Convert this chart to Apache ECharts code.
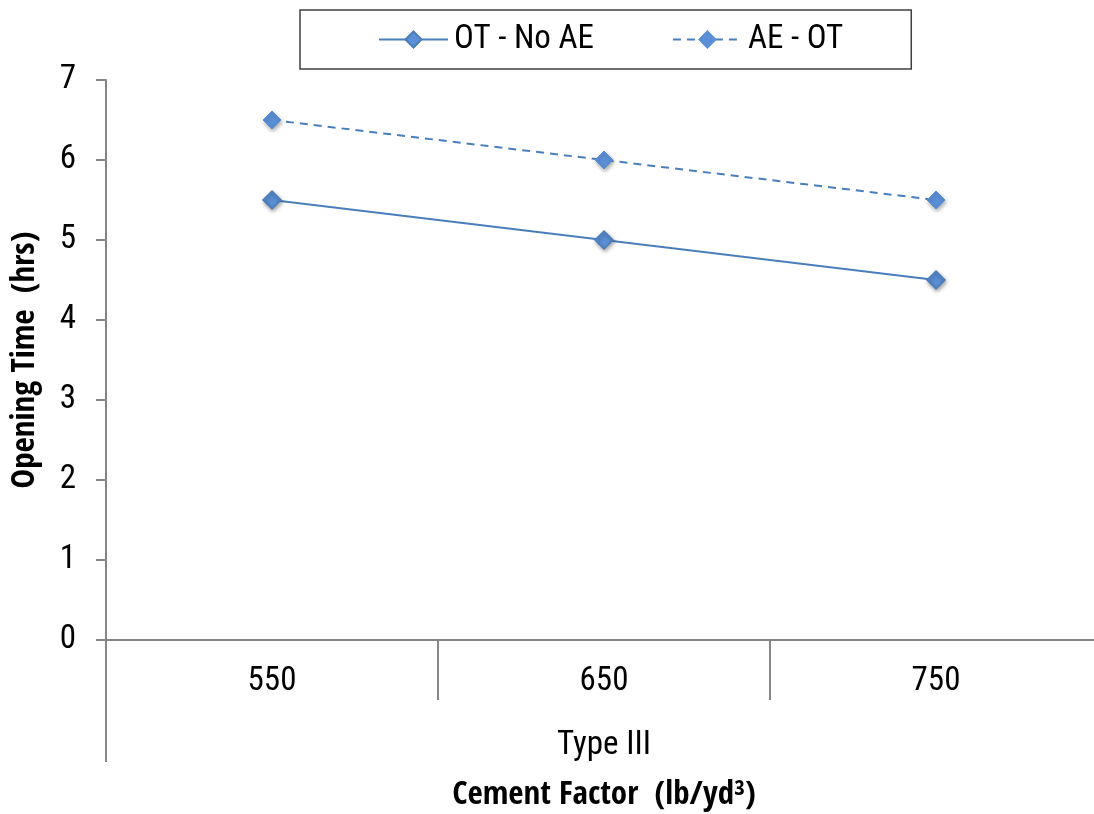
<!DOCTYPE html>
<html><head><meta charset="utf-8">
<script src="https://cdn.jsdelivr.net/npm/echarts@6/dist/echarts.min.js"></script>
<style>html,body{margin:0;padding:0;background:#fff}#c{width:1094px;height:814px}</style>
</head><body><div id="c"></div>
<script>
const categories = ['550', '650', '750'];
const groupLabels = ['Type III'];
const otNoAE = [5.5, 5.0, 4.5];
const aeOT = [6.5, 6.0, 5.5];
const seriesNames = ['OT - No AE', 'AE - OT'];

const FONT = '"Roboto Condensed", "Liberation Sans", sans-serif';
const BOLD = '"Open Sans Condensed", "Roboto Condensed", sans-serif';
const AX = '#868686';
const BLUE = '#4A7EBB';
const MARK = '#5B8FD6';

const chart = echarts.init(document.getElementById('c'));
chart.setOption({
  animation: false,
  textStyle: { fontFamily: FONT },
  legend: {
    left: 300, top: 10,
    borderColor: '#404040', borderWidth: 1.5,
    padding: [13, 68, 13, 78],
    itemGap: 78, itemWidth: 69, itemHeight: 20,
    textStyle: { fontFamily: FONT, fontSize: 33, color: '#000', padding: [0, 0, 0, 1] },
    data: seriesNames
  },
  grid: { left: 106, top: 80, width: 996, height: 560, containLabel: false, outerBoundsMode: 'none' },
  xAxis: [{
    type: 'category', data: categories, position: 'bottom', boundaryGap: true,
    axisLine: { lineStyle: { color: AX, width: 2 } },
    axisTick: { show: true, interval: 0, length: 60, lineStyle: { color: AX, width: 2 } },
    axisLabel: { fontSize: 33, color: '#000', margin: 25, fontFamily: FONT },
    splitLine: { show: false }
  }, {
    type: 'category', data: groupLabels, position: 'bottom', boundaryGap: true, offset: 0,
    axisLine: { show: false },
    axisTick: { show: true, interval: 0, length: 122, lineStyle: { color: AX, width: 2 } },
    axisLabel: { fontSize: 33, color: '#000', margin: 89, fontFamily: FONT },
    name: 'Cement Factor  (lb/yd³)', nameLocation: 'middle', nameGap: 139,
    nameTextStyle: { fontSize: 33, fontWeight: 'bold', color: '#000', fontFamily: BOLD }
  }],
  yAxis: {
    type: 'value', min: 0, max: 7, interval: 1,
    axisLine: { show: true, lineStyle: { color: AX, width: 2 } },
    axisTick: { show: true, length: 10, lineStyle: { color: AX, width: 2 } },
    axisLabel: { fontSize: 33, color: '#000', margin: 30, fontFamily: FONT },
    splitLine: { show: false },
    name: 'Opening Time  (hrs)', nameLocation: 'middle', nameGap: 64, nameRotate: 90,
    nameTextStyle: { fontSize: 33, fontWeight: 'bold', color: '#000', fontFamily: BOLD }
  },
  series: [{
    name: seriesNames[0], type: 'line', data: otNoAE, xAxisIndex: 0,
    symbol: 'diamond', symbolSize: 18,
    lineStyle: { color: BLUE, width: 2 },
    itemStyle: { color: MARK, borderColor: '#4A7EBB', borderWidth: 1.5, shadowBlur: 4, shadowColor: 'rgba(0,0,0,0.35)', shadowOffsetX: 1, shadowOffsetY: 2 }
  }, {
    name: seriesNames[1], type: 'line', data: aeOT, xAxisIndex: 0,
    symbol: 'diamond', symbolSize: 18,
    lineStyle: { color: BLUE, width: 2, type: [8, 6] },
    itemStyle: { color: MARK, borderColor: MARK, borderWidth: 1, shadowBlur: 4, shadowColor: 'rgba(0,0,0,0.35)', shadowOffsetX: 1, shadowOffsetY: 2 }
  }]
});
</script></body></html>
